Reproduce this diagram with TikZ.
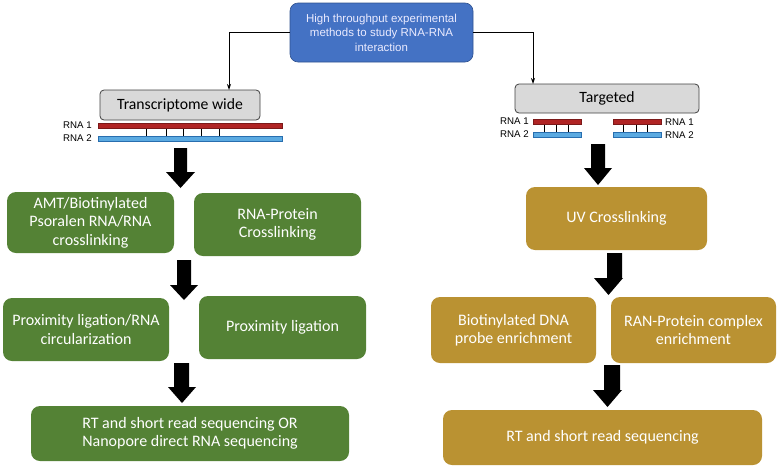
\documentclass[tikz,border=0pt]{standalone}
\usepackage{fontspec}
\setmainfont{Carlito}
\newfontfamily\arialf{Liberation Sans}
\usetikzlibrary{arrows.meta}
\definecolor{bluebox}{RGB}{68,114,196}
\definecolor{blueedge}{RGB}{47,82,143}
\definecolor{greybox}{RGB}{217,217,217}
\definecolor{greenbox}{RGB}{84,130,53}
\definecolor{goldbox}{RGB}{186,146,50}
\definecolor{rnared}{RGB}{176,36,36}
\definecolor{rnablue}{RGB}{91,170,225}
\definecolor{rnablueedge}{RGB}{40,110,175}
\tikzset{
  stepbox/.style={rounded corners=9pt, text=white, align=center, font=\fontsize{16}{18.5}\selectfont, inner sep=0pt},
  greyb/.style={draw=black!75, fill=greybox, rounded corners=4pt, line width=0.8pt, font=\fontsize{15.7}{17}\selectfont, inner sep=0pt},
  conn/.style={draw=black, line width=0.9pt, -{Stealth[length=6pt,width=4pt]}},
  rna1/.style={fill=rnared, draw=rnared!70!black, line width=0.3pt},
  rna2/.style={fill=rnablue, draw=rnablueedge, line width=0.5pt},
  tick/.style={draw=black, line width=0.7pt},
  rnalab/.style={font=\arialf\fontsize{9.7}{10}\selectfont, inner sep=0pt},
  blk/.style={fill=black, draw=none},
}
\begin{document}
\begin{tikzpicture}[x=1pt,y=-1pt]
\useasboundingbox (0,0) rectangle (778,466);

% top blue box
\node[fill=bluebox, draw=blueedge, line width=0.6pt, rounded corners=8pt, minimum width=183pt, minimum height=59pt, inner sep=0pt, text=white!92!blue, align=center, font=\arialf\fontsize{11.5}{14.5}\selectfont] (top) at (381.5,32.5) {High throughput experimental\\methods to study RNA-RNA\\interaction};

% category boxes
\node[greyb, minimum width=160pt, minimum height=30pt] (tw) at (180,105) {Transcriptome wide};
\node[greyb, minimum width=184pt, minimum height=29pt] (tg) at (607,98.5) {Targeted};

\coordinate (twin) at (229,90);
\coordinate (tgin) at (533,84);
\draw[conn] (top.west) -| (twin);
\draw[conn] (top.east) -| (tgin);

% transcriptome-wide RNA duplex
\foreach \x in {146,166,183,201,219} \draw[tick] (\x,128) -- (\x,136);
\draw[rna1] (98,123) rectangle (282,128);
\draw[rna2] (98,136) rectangle (282,141);
\node[rnalab, anchor=east] (l1) at (92,125.5) {RNA 1};
\node[rnalab, anchor=east] (l2) at (92,138.5) {RNA 2};

% targeted RNA duplexes
\foreach \x in {544,556,568,623,636,647} \draw[tick] (\x,124) -- (\x,132);
\draw[rna1] (533,119) rectangle (581,124);
\draw[rna2] (533,132) rectangle (581,137);
\draw[rna1] (613,119) rectangle (661,124);
\draw[rna2] (613,132) rectangle (661,137);
\node[rnalab, anchor=east] (l3) at (529,121.5) {RNA 1};
\node[rnalab, anchor=east] (l4) at (529,134.5) {RNA 2};
\node[rnalab, anchor=west] (l5) at (665,122.5) {RNA 1};
\node[rnalab, anchor=west] (l6) at (665,135.5) {RNA 2};

% green boxes
\node[stepbox, fill=greenbox, minimum width=167pt, minimum height=61pt] (g1) at (90.5,222.5) {AMT/Biotinylated\\Psoralen RNA/RNA\\crosslinking};
\node[stepbox, fill=greenbox, minimum width=167pt, minimum height=63pt] (g2) at (277.5,224.5) {RNA-Protein\\Crosslinking};
\node[stepbox, fill=greenbox, minimum width=166pt, minimum height=63pt] (g3) at (86,329.5) {Proximity ligation/RNA\\circularization};
\node[stepbox, fill=greenbox, minimum width=167pt, minimum height=63pt] (g4) at (282.5,327.5) {Proximity ligation};
\node[stepbox, fill=greenbox, minimum width=318pt, minimum height=55pt] (g5) at (190,433.5) {RT and short read sequencing OR\\Nanopore direct RNA sequencing};

% gold boxes
\node[stepbox, fill=goldbox, minimum width=181pt, minimum height=63pt] (y1) at (616.5,218.5) {UV Crosslinking};
\node[stepbox, fill=goldbox, minimum width=165pt, minimum height=66pt] (y2) at (513.5,330) {Biotinylated DNA\\probe enrichment};
\node[stepbox, fill=goldbox, minimum width=165pt, minimum height=66pt] (y3) at (693.5,330) {RAN-Protein complex\\enrichment};
\node[stepbox, fill=goldbox, minimum width=319pt, minimum height=55pt] (y4) at (602.5,437.5) {RT and short read sequencing};

% block arrows (left column)
\fill[blk] (174,148) -- (187,148) -- (187,172) -- (195,172) -- (180.5,188) -- (166,172) -- (174,172) -- cycle;
\fill[blk] (177,260) -- (191,260) -- (191,285) -- (198,285) -- (184,300) -- (170,285) -- (177,285) -- cycle;
\fill[blk] (174,363) -- (189,363) -- (189,387) -- (196,387) -- (182,403) -- (168,387) -- (174,387) -- cycle;

% block arrows (right column)
\fill[blk] (591,144) -- (605,144) -- (605,168) -- (612,168) -- (598,185) -- (584,168) -- (591,168) -- cycle;
\fill[blk] (607,253) -- (622,253) -- (622,278) -- (623,278) -- (608.5,295) -- (594,278) -- (607,278) -- cycle;
\fill[blk] (604,365) -- (620,365) -- (620,390) -- (622,390) -- (607.5,407) -- (593,390) -- (604,390) -- cycle;
\end{tikzpicture}
\end{document}
